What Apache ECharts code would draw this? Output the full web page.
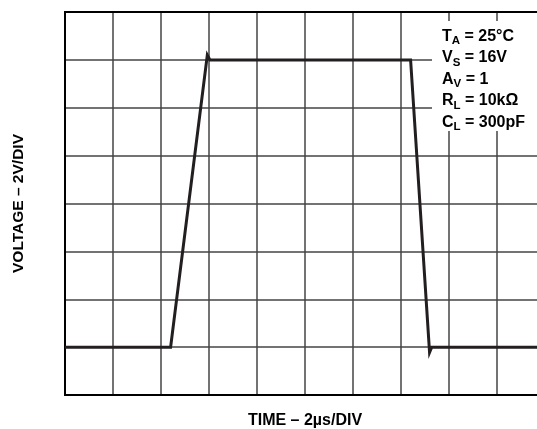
<!DOCTYPE html>
<html>
<head>
<meta charset="utf-8">
<script src="https://cdn.jsdelivr.net/npm/echarts@6/dist/echarts.min.js"></script>
<style>
html,body{margin:0;padding:0;background:#fff;}
#chart{width:537px;height:429px;}
</style>
</head>
<body>
<div id="chart"></div>
<script>
// Time in microseconds (2 µs/div, 10 divisions)
const timeUs = [0, 4.40, 5.93, 6.04, 14.40, 15.19, 15.28, 20];
// Voltage in volts (2 V/div, 8 divisions)
const voltV = [2.0, 2.0, 14.2, 14.0, 14.0, 1.78, 2.0, 2.0];
const xTicks = [0, 2, 4, 6, 8, 10, 12, 14, 16, 18, 20];
const yTicks = [0, 2, 4, 6, 8, 10, 12, 14, 16];
const condMain = ['T', 'V', 'A', 'R', 'C'];
const condSub = ['A', 'S', 'V', 'L', 'L'];
const condVal = [' = 25°C', ' = 16V', ' = 1', ' = 10kΩ', ' = 300pF'];
const xTitle = 'TIME – 2µs/DIV';
const yTitle = 'VOLTAGE – 2V/DIV';

const chart = echarts.init(document.getElementById('chart'), null, {renderer: 'canvas'});
const font = '"Liberation Sans", Arial, Helvetica, sans-serif';
const gridLine = {show: true, lineStyle: {color: '#444', width: 1.5}};

const condText = condMain.map((m, i) => '{b|' + m + '}{s|' + condSub[i] + '}{b|' + condVal[i] + '}').join('\n');

chart.setOption({
  animation: false,
  grid: {left: 65, top: 12, width: 480, height: 383, show: true, borderColor: '#000', borderWidth: 2,
         backgroundColor: 'transparent', z: 3, containLabel: false, outerBoundsMode: 'none'},
  xAxis: {
    type: 'value', min: xTicks[0], max: xTicks[xTicks.length - 1], interval: xTicks[1] - xTicks[0],
    axisLine: {show: false}, axisTick: {show: false}, axisLabel: {show: false},
    splitLine: gridLine,
    name: xTitle, nameLocation: 'middle', nameGap: 18,
    nameTextStyle: {fontFamily: font, fontWeight: 'bold', fontSize: 16, color: '#000'}
  },
  yAxis: {
    type: 'value', min: yTicks[0], max: yTicks[yTicks.length - 1], interval: yTicks[1] - yTicks[0],
    axisLine: {show: false}, axisTick: {show: false}, axisLabel: {show: false},
    splitLine: gridLine,
    name: yTitle, nameLocation: 'middle', nameGap: 38, nameRotate: 90,
    nameTextStyle: {fontFamily: font, fontWeight: 'bold', fontSize: 15.5, color: '#000'}
  },
  graphic: [
    {type: 'rect', z: 10, shape: {x: 432, y: 21, width: 120, height: 110}, style: {fill: '#fff'}},
    {type: 'text', z: 11, left: 442, top: 25.5, style: {
      text: condText, fontFamily: font, lineHeight: 21.5,
      rich: {
        b: {fontFamily: font, fontWeight: 'bold', fontSize: 16, color: '#000', lineHeight: 21.5},
        s: {fontFamily: font, fontWeight: 'bold', fontSize: 11.5, color: '#000', verticalAlign: 'bottom', padding: [6, 0, 0, 0], lineHeight: 21.5}
      }
    }}
  ],
  series: [{
    type: 'line', data: timeUs.map((t, i) => [t, voltV[i]]),
    symbol: 'none', z: 5,
    lineStyle: {color: '#231f20', width: 3, join: 'miter'}
  }]
});
</script>
</body>
</html>
